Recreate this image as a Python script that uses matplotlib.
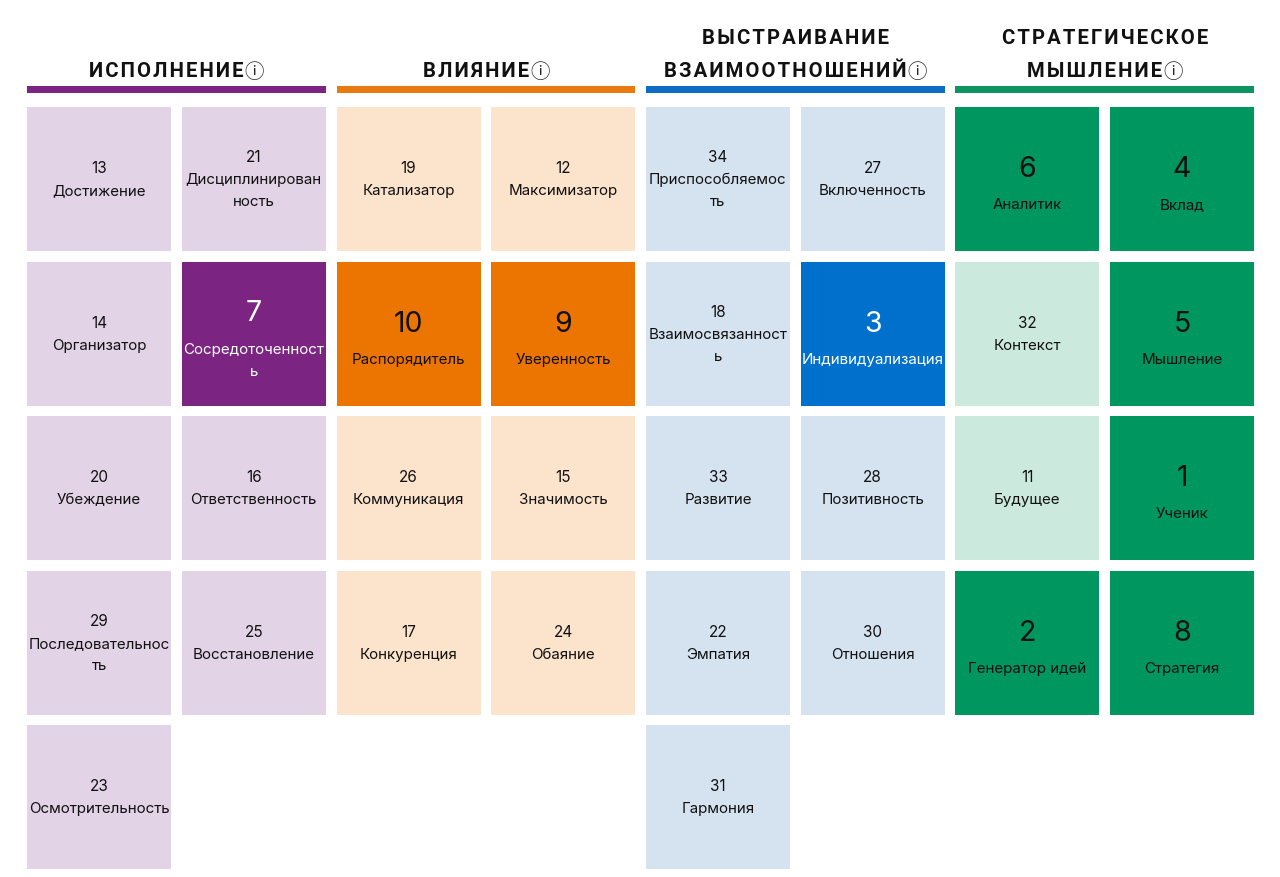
import matplotlib
matplotlib.use("Agg")
import matplotlib.pyplot as plt
from matplotlib.patches import Rectangle

FONT = ["Inter", "Roboto", "DejaVu Sans"]
plt.rcParams["font.family"] = FONT

domains = ["ИСПОЛНЕНИЕ", "ВЛИЯНИЕ", "ВЫСТРАИВАНИЕ\nВЗАИМООТНОШЕНИЙ", "СТРАТЕГИЧЕСКОЕ\nМЫШЛЕНИЕ"]
bar_colors = ["#7B2482", "#E87A10", "#0F6CC4", "#0E9460"]
dark_colors = ["#7B2482", "#EC7400", "#0070CD", "#00965F"]
light_colors = ["#E2D3E6", "#FBE3CC", "#D5E2F0", "#CCE9DE"]

execution_ranks = [13, 21, 14, 7, 20, 16, 29, 25, 23]
execution_names = ["Достижение", "Дисциплинирован\nность", "Организатор", "Сосредоточенност\nь",
                   "Убеждение", "Ответственность", "Последовательнос\nть", "Восстановление",
                   "Осмотрительность"]
influence_ranks = [19, 12, 10, 9, 26, 15, 17, 24]
influence_names = ["Катализатор", "Максимизатор", "Распорядитель", "Уверенность",
                   "Коммуникация", "Значимость", "Конкуренция", "Обаяние"]
relation_ranks = [34, 27, 18, 3, 33, 28, 22, 30, 31]
relation_names = ["Приспособляемос\nть", "Включенность", "Взаимосвязанност\nь", "Индивидуализация",
                  "Развитие", "Позитивность", "Эмпатия", "Отношения", "Гармония"]
strategy_ranks = [6, 4, 32, 5, 11, 1, 2, 8]
strategy_names = ["Аналитик", "Вклад", "Контекст", "Мышление",
                  "Будущее", "Ученик", "Генератор идей", "Стратегия"]
top_cutoff = 10

groups = [(execution_ranks, execution_names), (influence_ranks, influence_names),
          (relation_ranks, relation_names), (strategy_ranks, strategy_names)]
white_text_ranks = [7, 3]

fig = plt.figure(figsize=(12.80, 8.77), dpi=100)
ax = fig.add_axes([0, 0, 1, 1])
ax.set_xlim(0, 1280)
ax.set_ylim(877, 0)
ax.axis("off")
renderer = fig.canvas.get_renderer()

X0, PITCH, TILE = 27.1, 154.7, 144
Y0, RPITCH = 107, 154.6
LINE = 22.3
TITLE_PITCH = 33
ICON_W = 20
ICON = "\u24d8"


def spaced(s):
    return "\u200a".join(s)


for d, (ranks, names) in enumerate(groups):
    left = X0 + d * 2 * PITCH
    width = PITCH + TILE
    ax.add_patch(Rectangle((left, 86), width, 7, fc=bar_colors[d], ec="none"))
    lines = domains[d].split("\n")
    for k, line in enumerate(lines):
        base = 77 - (len(lines) - 1 - k) * TITLE_PITCH
        is_last = k == len(lines) - 1
        t = ax.text(left + width / 2, base, spaced(line), ha="center", va="baseline",
                    fontsize=14.6, fontweight="bold", color="#111111", family=["Roboto", "DejaVu Sans"])
        if is_last:
            w = t.get_window_extent(renderer).width
            start = left + width / 2 - (w + ICON_W) / 2
            t.set_ha("left")
            t.set_x(start)
            ax.text(start + w + 1, base + 1, ICON, ha="left", va="baseline", fontsize=14,
                    color="#222222", family=["Noto Sans CJK JP", "DejaVu Sans"])
    for i, (rank, name) in enumerate(zip(ranks, names)):
        col, row = i % 2, i // 2
        x = left + col * PITCH
        y = Y0 + row * RPITCH
        top = rank <= top_cutoff
        ax.add_patch(Rectangle((x, y), TILE, TILE, fc=dark_colors[d] if top else light_colors[d], ec="none"))
        cx, cy = x + TILE / 2, y + TILE / 2
        wrapped = "\n" in name
        tc = "white" if rank in white_text_ranks else "#111111"
        if top:
            num_y, name_y, fs = (cy - 12.5, cy + 20, 20.5) if wrapped else (cy - 2, cy + 30, 20.5)
        else:
            num_y, name_y, fs = (cy - 17, cy + 5, 11) if wrapped else (cy - 6, cy + 16, 11)
        ax.text(cx, num_y, str(rank), ha="center", va="baseline", fontsize=fs, color=tc)
        for k, part in enumerate(name.split("\n")):
            ax.text(cx, name_y + k * LINE, part, ha="center", va="baseline", fontsize=10.9, color=tc)

fig.savefig("out.png", dpi=100, facecolor="white")
